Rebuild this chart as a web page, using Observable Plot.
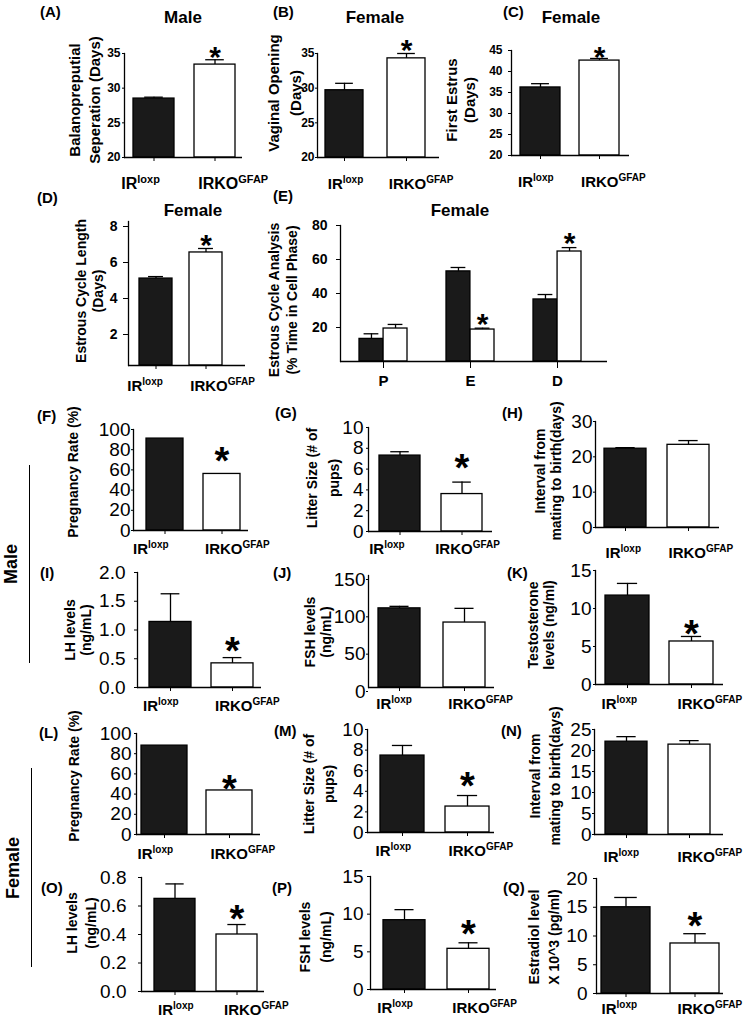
<!DOCTYPE html>
<html><head><meta charset="utf-8">
<script src="https://cdn.jsdelivr.net/npm/d3@7"></script>
<script src="https://cdn.jsdelivr.net/npm/@observablehq/plot@0.6"></script>
<style>
body{margin:0;background:#fff;}
#fig{position:relative;width:748px;height:1019px;overflow:hidden;font-family:"Liberation Sans",Arial,Helvetica,sans-serif;color:#000;background:#fff;}
.t{position:absolute;white-space:nowrap;font-weight:bold;line-height:1;}
.pn{position:absolute;}
.vl{position:absolute;width:0;border-left:1.5px solid #000;}
</style></head><body><div id="fig"></div>
<script>
// ---------- data ----------
const genotypes = ["IRloxp", "IRKOGFAP"];
const labelMain = ["IR", "IRKO"];
const labelSup = ["loxp", "GFAP"];
const phases = ["P", "E", "D"];

const A_mean = [28.5, 33.4], A_sem = [0.2, 0.7], A_sig = [false, true];
const B_mean = [29.7, 34.3], B_sem = [1.0, 0.7], B_sig = [false, true];
const C_mean = [36.2, 42.6], C_sem = [0.9, 0.5], C_sig = [false, true];
const D_mean = [4.83, 6.28], D_sem = [0.11, 0.22], D_sig = [false, true];
const E_loxp_mean = [13.3, 53.0, 36.5], E_loxp_sem = [3.0, 2.3, 2.9];
const E_ko_mean = [19.4, 18.8, 64.7], E_ko_sem = [2.4, 0.8, 2.3];
const E_ko_sig = [false, true, true];
const F_mean = [91, 56], F_sig = [false, true];
const G_mean = [7.3, 3.6], G_sem = [0.37, 1.15], G_sig = [false, true];
const H_mean = [22.3, 23.4], H_sem = [0.3, 1.2], H_sig = [false, false];
const I_mean = [1.14, 0.42], I_sem = [0.49, 0.10], I_sig = [false, true];
const J_mean = [106, 87], J_sem = [2.7, 19], J_sig = [false, false];
const K_mean = [11.7, 5.66], K_sem = [1.6, 0.66], K_sig = [false, true];
const L_mean = [88, 43.6], L_sig = [false, true];
const M_mean = [7.47, 2.52], M_sem = [0.98, 1.07], M_sig = [false, true];
const N_mean = [22.1, 21.4], N_sem = [1.2, 0.95], N_sig = [false, false];
const O_mean = [0.65, 0.40], O_sem = [0.105, 0.07], O_sig = [false, true];
const P_mean = [9.2, 5.4], P_sem = [1.4, 0.8], P_sig = [false, true];
const Q_mean = [15.0, 8.7], Q_sem = [1.7, 1.7], Q_sig = [false, true];

const ticksAB = [20, 25, 30, 35];
const ticksC = [20, 25, 30, 35, 40, 45];
const ticksD = [2, 4, 6, 8];
const ticksE = [20, 40, 60, 80];
const ticks100 = [0, 20, 40, 60, 80, 100];
const ticks10 = [0, 2, 4, 6, 8, 10];
const ticks30 = [0, 10, 20, 30];
const ticksI = [0, 0.5, 1.0, 1.5, 2.0];
const ticks150 = [0, 50, 100, 150];
const ticks15 = [0, 5, 10, 15];
const ticks25 = [0, 5, 10, 15, 20, 25];
const ticksO = [0, 0.2, 0.4, 0.6, 0.8];
const ticks20 = [0, 5, 10, 15, 20];

// ---------- helpers ----------
const fig = document.getElementById("fig");
const FONT = '"Liberation Sans", Arial, Helvetica, sans-serif';
const colorScale = {domain: genotypes, range: ["#1a1a1a", "#ffffff"]};

function addText(html, x, y, o = {}) {
  const d = document.createElement("div");
  d.className = "t";
  d.style.left = x + "px"; d.style.top = y + "px";
  d.style.fontSize = (o.fs || 15) + "px";
  if (o.rotate) {
    d.style.transform = "translate(-50%,-50%) rotate(-90deg)";
    d.style.textAlign = "center";
    if (o.lh) d.style.lineHeight = o.lh + "px";
  } else {
    const tx = o.anchor === "middle" ? "-50%" : "0";
    d.style.transform = `translate(${tx},-50%)`;
  }
  d.innerHTML = html;
  fig.appendChild(d);
}

function place(svg, x0, yT, mL, mT) {
  const w = document.createElement("div");
  w.className = "pn";
  w.style.left = (x0 - mL) + "px";
  w.style.top = (yT - mT) + "px";
  w.appendChild(svg);
  fig.appendChild(w);
}

function styleAxes(svg, p, bw) {
  const s = d3.select(svg);
  s.selectAll('g[aria-label="y-axis tick label"]')
    .attr("font-size", p.yfs).attr("font-weight", p.ybold ? "bold" : "normal");
  s.selectAll('g[aria-label="x-axis tick label"]')
    .attr("font-size", p.xfs || 15).attr("font-weight", "bold");
  s.selectAll('g[aria-label="x-axis tick label"] text').each(function () {
    const t = this.textContent;
    const i = genotypes.indexOf(t);
    if (i < 0) return;
    this.textContent = "";
    const a = document.createElementNS("http://www.w3.org/2000/svg", "tspan");
    a.textContent = labelMain[i];
    const b = document.createElementNS("http://www.w3.org/2000/svg", "tspan");
    b.textContent = labelSup[i];
    b.setAttribute("font-size", p.supfs || 10);
    b.setAttribute("dy", -6);
    this.appendChild(a); this.appendChild(b);
    this.setAttribute("text-anchor", "start");
    const off = (p.xlOff || [-5, 3])[i];
    this.setAttribute("dx", -bw / 2 + off);
  });
}

function barPanel(p) {
  const [x0, x1, yT, yB] = p.frame;
  const mL = 80, mR = 16, mT = 50, mB = 50;
  const [pi, po, al] = p.band;
  const step = (x1 - x0) / (2 - pi + 2 * po);
  const bw = step * (1 - pi);
  const y0 = p.yDomain[0];
  const data = genotypes.map((g, i) => ({g, v: p.mean[i], e: p.sem ? p.sem[i] : 0, s: p.sig[i]}));
  const sw = p.sw || 1.3;
  const marks = [
    Plot.barY(data, {x: "g", y1: () => y0, y2: "v", fill: "g", stroke: "#000", strokeWidth: sw})
  ];
  if (p.sem) {
    marks.push(Plot.ruleX(data, {x: "g", y1: "v", y2: d => d.v + d.e, stroke: "#000", strokeWidth: sw}));
    marks.push(Plot.tickY(data, {x: "g", y: d => d.v + d.e, insetLeft: bw * 0.27, insetRight: bw * 0.27, stroke: "#000", strokeWidth: sw}));
  }
  const sfs = p.starSize || 38;
  marks.push(Plot.text(data.filter(d => d.s), {x: "g", y: d => d.v + d.e, text: () => "*", fontSize: sfs, fontWeight: "bold", lineAnchor: "middle", dy: -(p.starOff - 0.235 * sfs)}));
  marks.push(Plot.ruleY([y0], {stroke: "#000", strokeWidth: sw}));
  marks.push(Plot.frame({anchor: "left", stroke: "#000", strokeWidth: sw}));
  marks.push(Plot.axisY({ticks: p.yTicks, tickSize: p.ytick, tickPadding: p.ypad, tickFormat: p.fmt || (d => d), dy: p.ydy || 0}));
  const xfs = p.xfs || 15;
  marks.push(Plot.axisX({tickSize: 4, tickPadding: p.xoff - 4 - 0.36 * xfs}));
  const svg = Plot.plot({
    width: (x1 - x0) + mL + mR, height: (yB - yT) + mT + mB,
    marginLeft: mL, marginRight: mR, marginTop: mT, marginBottom: mB,
    x: {domain: genotypes, paddingInner: pi, paddingOuter: po, align: al, label: null},
    y: {domain: p.yDomain, label: null},
    color: colorScale,
    style: {fontFamily: FONT, overflow: "visible", background: "transparent", color: "#000"},
    marks
  });
  styleAxes(svg, p, bw);
  place(svg, x0, yT, mL, mT);
}

function groupedPanel(p) {
  const [x0, x1, yT, yB] = p.frame;
  const mL = 80, mR = 16, mT = 50, mB = 50;
  const [pi, po, al] = p.band;
  const step = (x1 - x0) / (3 - pi + 2 * po);
  const bw = step * (1 - pi);
  const half = bw / 2, cap = half * 0.62;
  const data = [];
  phases.forEach((ph, i) => {
    data.push({ph, g: genotypes[0], v: E_loxp_mean[i], e: E_loxp_sem[i], s: false});
    data.push({ph, g: genotypes[1], v: E_ko_mean[i], e: E_ko_sem[i], s: E_ko_sig[i]});
  });
  const sw = 1.3, sfs = 30;
  const marks = [];
  genotypes.forEach((g, j) => {
    const sub = data.filter(d => d.g === g);
    const c = j === 0 ? half / 2 : half * 1.5;
    marks.push(Plot.barY(sub, {x: "ph", y1: () => 0, y2: "v", fill: "g", stroke: "#000", strokeWidth: sw,
      insetLeft: j === 0 ? 0 : half, insetRight: j === 0 ? half : 0}));
    marks.push(Plot.ruleX(sub, {x: "ph", y1: "v", y2: d => d.v + d.e, dx: c - bw / 2, stroke: "#000", strokeWidth: sw}));
    marks.push(Plot.tickY(sub, {x: "ph", y: d => d.v + d.e, insetLeft: c - cap / 2, insetRight: bw - c - cap / 2, stroke: "#000", strokeWidth: sw}));
    marks.push(Plot.text(sub.filter(d => d.s), {x: "ph", y: d => d.v + d.e, text: () => "*", dx: c - bw / 2, fontSize: sfs, fontWeight: "bold", lineAnchor: "middle", dy: -(11 - 0.235 * sfs)}));
  });
  marks.push(Plot.ruleY([0], {stroke: "#000", strokeWidth: sw}));
  marks.push(Plot.frame({anchor: "left", stroke: "#000", strokeWidth: sw}));
  marks.push(Plot.axisY({ticks: ticksE, tickSize: 4, tickPadding: 9}));
  marks.push(Plot.axisX({tickSize: 7, tickPadding: 19 - 7 - 5.4}));
  const svg = Plot.plot({
    width: (x1 - x0) + mL + mR, height: (yB - yT) + mT + mB,
    marginLeft: mL, marginRight: mR, marginTop: mT, marginBottom: mB,
    x: {domain: phases, paddingInner: pi, paddingOuter: po, align: al, label: null},
    y: {domain: [0, 80], label: null},
    color: colorScale,
    style: {fontFamily: FONT, overflow: "visible", background: "transparent", color: "#000"},
    marks
  });
  styleAxes(svg, {yfs: 14, ybold: true, xfs: 15}, bw);
  place(svg, x0, yT, mL, mT);
}

const f1 = d3.format(".1f");

// ---------- panels ----------
barPanel({frame: [124, 242, 53, 157], band: [0.32, 0.127, 0.58], yDomain: [20, 35], yTicks: ticksAB, ytick: 2, ypad: 2, yfs: 12, ybold: true,
  mean: A_mean, sem: A_sem, sig: A_sig, starOff: 9, starSize: 30, xoff: 26, xlOff: [-12, 4], xfs: 16, supfs: 11});
barPanel({frame: [317, 439, 53, 157], band: [0.395, 0.18, 0.36], yDomain: [20, 35], yTicks: ticksAB, ytick: 2, ypad: 1, yfs: 12, ybold: true,
  mean: B_mean, sem: B_sem, sig: B_sig, starOff: 10, starSize: 30, xoff: 26, xlOff: [2, 1]});
barPanel({frame: [511, 629, 50, 155], band: [0.317, 0.142, 0.47], yDomain: [20, 45], yTicks: ticksC, ytick: 3, ypad: 6, yfs: 12, ybold: true,
  mean: C_mean, sem: C_sem, sig: C_sig, starOff: 8, starSize: 30, xoff: 26, xlOff: [-2, 2]});
barPanel({frame: [128, 245, 221, 365], band: [0.343, 0.32, 0.31], yDomain: [0, 8], yTicks: ticksD, ytick: 5, ypad: 6, yfs: 14, ybold: true, ydy: 5,
  mean: D_mean, sem: D_sem, sig: D_sig, starOff: 10, starSize: 30, xoff: 20, xlOff: [-12, 1]});
groupedPanel({frame: [340, 607, 225, 361], band: [0.45, 0.25, 0.41]});

barPanel({frame: [133, 248, 429, 530], band: [0.345, 0.164, 0.63], yDomain: [0, 100], yTicks: ticks100, ytick: 2, ypad: 1, yfs: 19,
  mean: F_mean, sig: F_sig, starOff: 21, xoff: 18, xlOff: [-13, 2]});
barPanel({frame: [368, 492, 427, 531], band: [0.333, 0.159, 0.55], yDomain: [0, 10], yTicks: ticks10, ytick: 2, ypad: 3, yfs: 19,
  mean: G_mean, sem: G_sem, sig: G_sig, starOff: 22, xoff: 17, xlOff: [-10, -6]});
barPanel({frame: [595, 719, 421, 527], band: [0.333, 0.15, 0.47], yDomain: [0, 30], yTicks: ticks30, ytick: 2, ypad: 1, yfs: 19,
  mean: H_mean, sem: H_sem, sig: H_sig, starOff: 15, xoff: 25, xlOff: [1, 1]});

barPanel({frame: [137, 261, 572, 687], band: [0.317, 0.143, 0.61], yDomain: [0, 2], yTicks: ticksI, fmt: f1, ytick: 3, ypad: 9, yfs: 19,
  mean: I_mean, sem: I_sem, sig: I_sig, starOff: 15, xoff: 18, xlOff: [-6, 4]});
barPanel({frame: [368, 494, 575, 687], band: [0.356, 0.133, 0.51], yDomain: [0, 150], yTicks: ticks150, ytick: 2, ypad: 1, yfs: 19, ydy: 4,
  mean: J_mean, sem: J_sem, sig: J_sig, starOff: 15, xoff: 16, xlOff: [-2, 5]});
barPanel({frame: [595, 723, 570, 684], band: [0.3125, 0.156, 0.5], yDomain: [0, 15], yTicks: ticks15, ytick: 2, ypad: 2, yfs: 19,
  mean: K_mean, sem: K_sem, sig: K_sig, starOff: 11, xoff: 19, xlOff: [-4, 8]});

barPanel({frame: [136, 260, 733, 834], band: [0.298, 0.096, 0.36], yDomain: [0, 100], yTicks: ticks100, ytick: 2, ypad: 3, yfs: 19,
  mean: L_mean, sig: L_sig, starOff: 10, xoff: 19, xlOff: [-4, 4]});
barPanel({frame: [367, 494, 729, 832], band: [0.323, 0.138, 0.72], yDomain: [0, 10], yTicks: ticks10, ytick: 2, ypad: 2, yfs: 19,
  mean: M_mean, sem: M_sem, sig: M_sig, starOff: 18, xoff: 18, xlOff: [-5, 3]});
barPanel({frame: [594, 723, 729, 834], band: [0.333, 0.19, 0.46], yDomain: [0, 25], yTicks: ticks25, ytick: 2, ypad: 1, yfs: 19,
  mean: N_mean, sem: N_sem, sig: N_sig, starOff: 15, xoff: 22, xlOff: [-2, 9]});

barPanel({frame: [141, 264, 877, 991], band: [0.333, 0.143, 0.67], yDomain: [0, 0.8], yTicks: ticksO, fmt: f1, ytick: 3, ypad: 12, yfs: 19,
  mean: O_mean, sem: O_sem, sig: O_sig, starOff: 14, xoff: 18, xlOff: [4, 8]});
barPanel({frame: [370, 496, 876, 989], band: [0.341, 0.147, 0.68], yDomain: [0, 15], yTicks: ticks15, ytick: 3, ypad: 4, yfs: 19,
  mean: P_mean, sem: P_sem, sig: P_sig, starOff: 17, xoff: 18, xlOff: [-6, 5]});
barPanel({frame: [596, 723, 878, 993], band: [0.29, 0.065, 0.61], yDomain: [0, 20], yTicks: ticks20, ytick: 3, ypad: 6, yfs: 19,
  mean: Q_mean, sem: Q_sem, sig: Q_sig, starOff: 16, xoff: 15, xlOff: [0, 7]});

// ---------- text ----------
const panelLetters = [
  ["(A)", 40, 11], ["(B)", 273, 11], ["(C)", 503, 11], ["(D)", 37, 197], ["(E)", 273, 195],
  ["(F)", 37, 415], ["(G)", 275, 412], ["(H)", 502, 412], ["(I)", 40, 572], ["(J)", 273, 572],
  ["(K)", 507, 572], ["(L)", 39, 732], ["(M)", 274, 730], ["(N)", 501, 730], ["(O)", 41, 887],
  ["(P)", 272, 887], ["(Q)", 503, 887]
];
panelLetters.forEach(([t, x, y]) => addText(t, x, y, {fs: 15}));

const titles = [["Male", 183, 17], ["Female", 375, 17], ["Female", 571, 17], ["Female", 193, 210], ["Female", 460, 210]];
titles.forEach(([t, x, y]) => addText(t, x, y, {fs: 17, anchor: "middle"}));

const yLabels = [
  [["Balanopreputial", "Seperation (Days)"], 85, 100, 20, 15],
  [["Vaginal Opening", "(Days)"], 285, 93, 22, 15],
  [["First Estrus", "(Days)"], 461, 100, 18, 15],
  [["Estrous Cycle Length", "(Days)"], 90, 291, 17, 14],
  [["Estrous Cycle Analysis", "(% Time in Cell Phase)"], 283, 300, 18, 14],
  [["Pregnancy Rate (%)"], 73, 472, 16, 14],
  [["Litter Size (# of", "pups)"], 323, 478, 22, 14],
  [["Interval from", "mating to birth(days)"], 548, 471, 16, 14],
  [["LH levels", "(ng/mL)"], 78, 630, 16, 14],
  [["FSH levels", "(ng/mL)"], 318, 632, 16, 14],
  [["Testosterone", "levels (ng/ml)"], 541, 625, 16, 14],
  [["Pregnancy Rate (%)"], 74, 776, 16, 14],
  [["Litter Size (# of", "pups)"], 319, 784, 20, 14],
  [["Interval from", "mating to birth(days)"], 545, 776, 20, 14],
  [["LH levels", "(ng/mL)"], 82, 923, 19, 14],
  [["FSH levels", "(ng/mL)"], 316, 937, 21, 14],
  [["Estradiol level", "X 10^3 (pg/ml)"], 544, 937, 20, 14]
];
yLabels.forEach(([lines, x, y, lh, fs]) => addText(lines.join("<br>"), x, y, {fs, rotate: true, lh}));

addText("Male", 11, 564, {fs: 18, rotate: true});
addText("Female", 13, 868, {fs: 18, rotate: true});
[[29, 465, 663], [31, 768, 967]].forEach(([x, a, b]) => {
  const d = document.createElement("div");
  d.className = "vl"; d.style.left = x + "px"; d.style.top = a + "px"; d.style.height = (b - a) + "px";
  fig.appendChild(d);
});
</script></body></html>
